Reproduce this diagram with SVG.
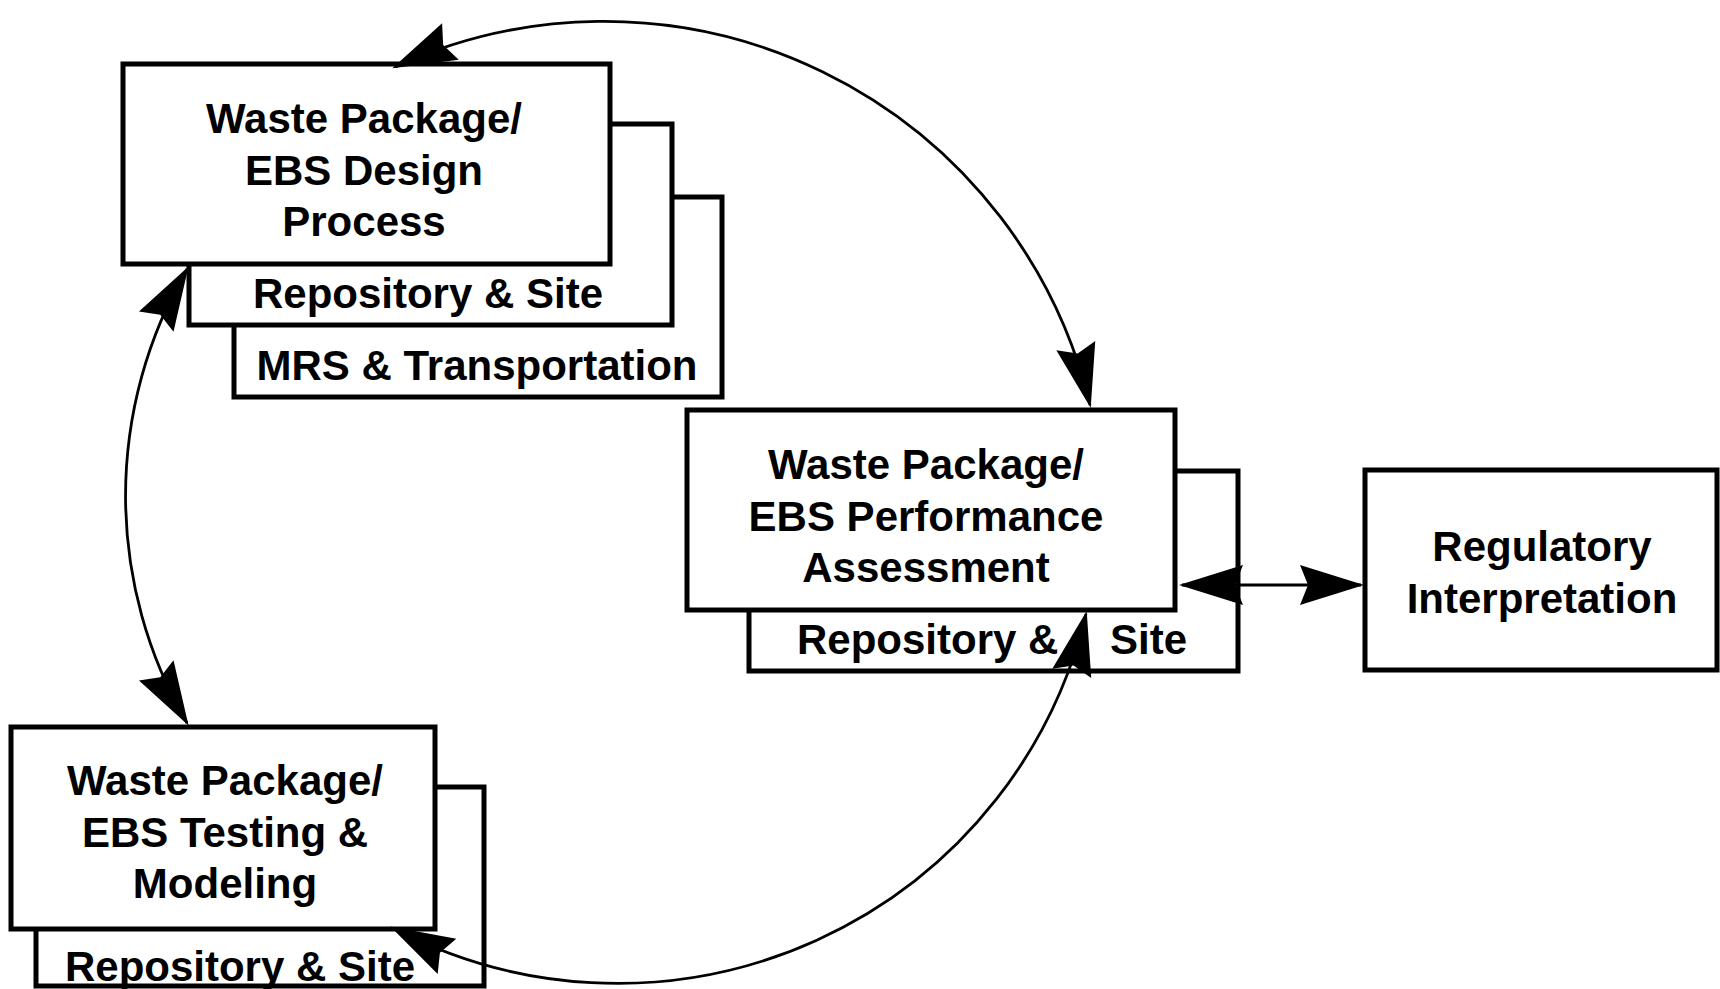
<svg xmlns="http://www.w3.org/2000/svg" width="1720" height="989" viewBox="0 0 1720 989">
<style>
.box{fill:#fff;stroke:#000;stroke-width:5}
.t{font-family:"Liberation Sans",Arial,Helvetica,sans-serif;font-weight:bold;font-size:42px;fill:#000;text-anchor:middle}
.ts{font-family:"Liberation Sans",Arial,Helvetica,sans-serif;font-weight:bold;font-size:42px;fill:#000}
.c{fill:none;stroke:#000;stroke-width:2.8}
</style>
<defs>
<marker id="ah" viewBox="-70 -25 75 50" markerWidth="75" markerHeight="50" refX="-3" refY="0" orient="auto-start-reverse" markerUnits="userSpaceOnUse">
<path d="M0,0 L-64,-20 L-56,0 L-64,20 Z" fill="#000"/>
</marker>
</defs>
<rect width="1720" height="989" fill="#fff"/>

<g id="design">
<rect class="box" x="234" y="197" width="488" height="200"/>
<text class="t" x="477" y="380">MRS &amp; Transportation</text>
<rect class="box" x="189" y="124" width="483" height="201"/>
<text class="t" x="428" y="308">Repository &amp; Site</text>
<rect class="box" x="123" y="64" width="487" height="200"/>
<text class="t" x="364" y="133">Waste Package/</text>
<text class="t" x="364" y="185">EBS Design</text>
<text class="t" x="364" y="236">Process</text>
</g>

<g id="performance">
<rect class="box" x="749" y="471" width="489" height="200"/>
<text class="ts" x="797" y="654">Repository &amp;</text>
<text class="ts" x="1110" y="654">Site</text>
<rect class="box" x="687" y="410" width="488" height="200"/>
<text class="t" x="926" y="479">Waste Package/</text>
<text class="t" x="926" y="531">EBS Performance</text>
<text class="t" x="926" y="582">Assessment</text>
</g>

<g id="regulatory">
<rect class="box" x="1365" y="470" width="352" height="200"/>
<text class="t" x="1542" y="561">Regulatory</text>
<text class="t" x="1542" y="613">Interpretation</text>
</g>

<g id="testing">
<rect class="box" x="36" y="787" width="448" height="199"/>
<text class="t" x="240" y="981">Repository &amp; Site</text>
<rect class="box" x="11" y="727" width="424" height="202"/>
<text class="t" x="225" y="795">Waste Package/</text>
<text class="t" x="225" y="847">EBS Testing &amp;</text>
<text class="t" x="225" y="898">Modeling</text>
</g>

<g id="connectors">
<path class="c" d="M395,67 A500,500 0 0 1 1090,405" marker-start="url(#ah)" marker-end="url(#ah)"/>
<path class="c" d="M187,269 A450,450 0 0 0 187,723" marker-start="url(#ah)" marker-end="url(#ah)"/>
<path class="c" d="M393,928 A482,482 0 0 0 1086,614" marker-start="url(#ah)" marker-end="url(#ah)"/>
<path class="c" d="M1182,585 L1361,585" marker-start="url(#ah)" marker-end="url(#ah)"/>
</g>
</svg>
